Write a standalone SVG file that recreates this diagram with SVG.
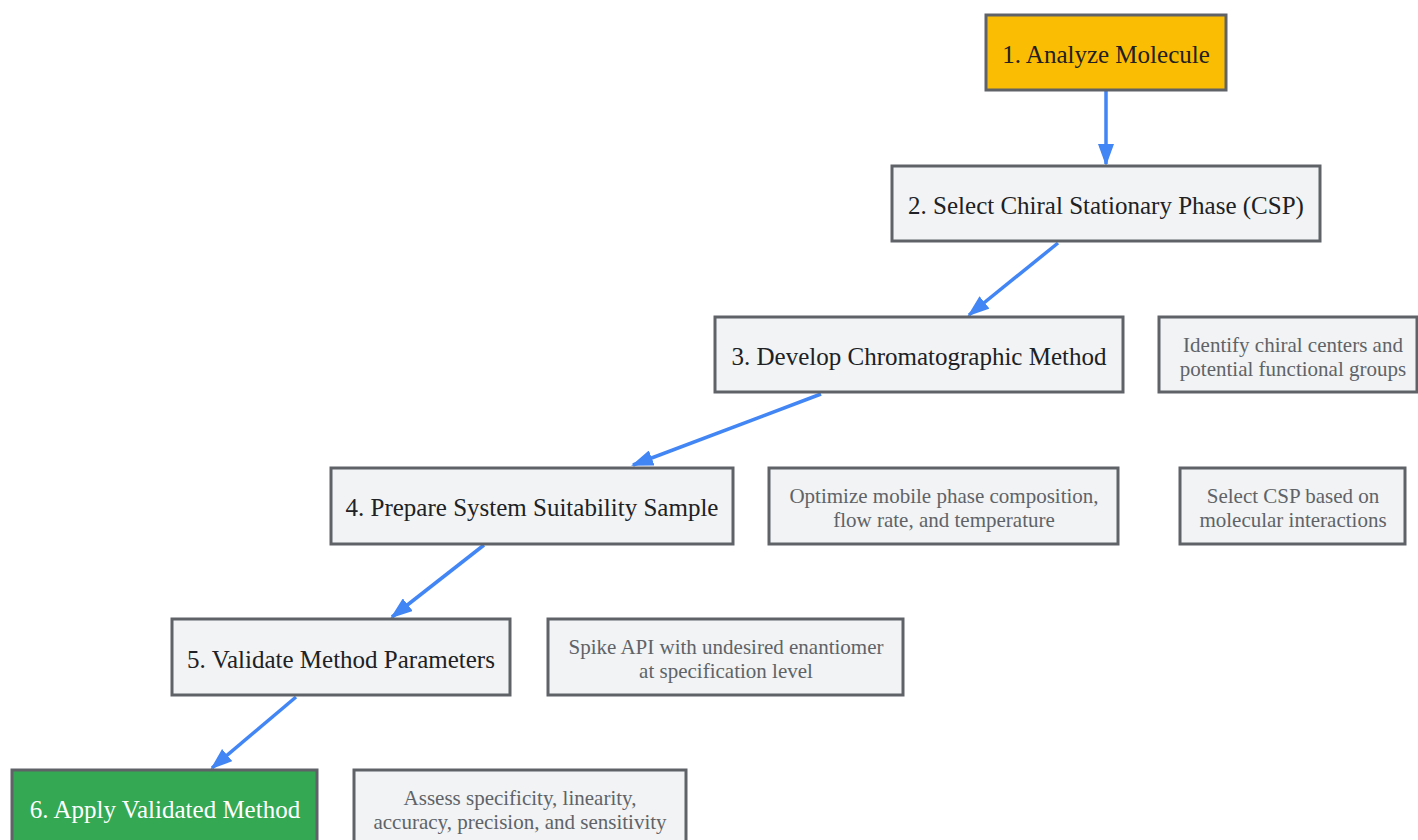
<svg xmlns="http://www.w3.org/2000/svg" width="1418" height="840" viewBox="0 0 1418 840">
<style>
.box{fill:#f1f3f4;stroke:#5f6368;stroke-width:3}
.t{font-family:"Liberation Serif","Times New Roman",serif;font-size:25px;fill:#202124;text-anchor:middle;dominant-baseline:central}
.n{font-family:"Liberation Serif","Times New Roman",serif;font-size:21px;fill:#5f6368;text-anchor:middle}
.e{stroke:#4285f4;stroke-width:3.5;fill:none;marker-end:url(#ah)}
</style>
<defs>
<marker id="ah" viewBox="0 0 22 16" refX="20" refY="8" markerWidth="22" markerHeight="16" markerUnits="userSpaceOnUse" orient="auto">
<path d="M0,0 L22,8 L0,16 z" fill="#4285f4"/>
</marker>
</defs>
<rect width="1418" height="840" fill="#ffffff"/>
<g id="connectors">
<line class="e" x1="1106" y1="91" x2="1106" y2="164"/>
<line class="e" x1="1058" y1="243" x2="969" y2="315"/>
<line class="e" x1="821" y1="394" x2="633" y2="465"/>
<line class="e" x1="484" y1="545" x2="392" y2="617"/>
<line class="e" x1="296" y1="697" x2="212" y2="768"/>
</g>
<g id="n1"><rect x="986" y="15" width="240" height="75" fill="#fbbc04" stroke="#5f6368" stroke-width="3"/><text class="t" x="1106" y="54">1. Analyze Molecule</text></g>
<g id="n2"><rect class="box" x="892" y="166" width="428" height="75"/><text class="t" x="1106" y="205">2. Select Chiral Stationary Phase (CSP)</text></g>
<g id="n3"><rect class="box" x="715" y="317" width="408" height="75"/><text class="t" x="919" y="356">3. Develop Chromatographic Method</text></g>
<g id="note1"><rect class="box" x="1159" y="317" width="258" height="75"/><text class="n" x="1293" y="352">Identify chiral centers and</text><text class="n" x="1293" y="376">potential functional groups</text></g>
<g id="n4"><rect class="box" x="331" y="468" width="402" height="76"/><text class="t" x="532" y="507">4. Prepare System Suitability Sample</text></g>
<g id="note2"><rect class="box" x="769" y="468" width="349" height="76"/><text class="n" x="944" y="503">Optimize mobile phase composition,</text><text class="n" x="944" y="527">flow rate, and temperature</text></g>
<g id="note3"><rect class="box" x="1180" y="468" width="225" height="76"/><text class="n" x="1293" y="503">Select CSP based on</text><text class="n" x="1293" y="527">molecular interactions</text></g>
<g id="n5"><rect class="box" x="172" y="619" width="338" height="76"/><text class="t" x="341" y="659">5. Validate Method Parameters</text></g>
<g id="note4"><rect class="box" x="548" y="619" width="355" height="76"/><text class="n" x="726" y="654">Spike API with undesired enantiomer</text><text class="n" x="726" y="678">at specification level</text></g>
<g id="n6"><rect x="12" y="770" width="305" height="76" fill="#34a853" stroke="#5f6368" stroke-width="3"/><text class="t" x="165" y="809" style="fill:#ffffff">6. Apply Validated Method</text></g>
<g id="note5"><rect class="box" x="354" y="770" width="332" height="76"/><text class="n" x="520" y="805">Assess specificity, linearity,</text><text class="n" x="520" y="829">accuracy, precision, and sensitivity</text></g>
</svg>
